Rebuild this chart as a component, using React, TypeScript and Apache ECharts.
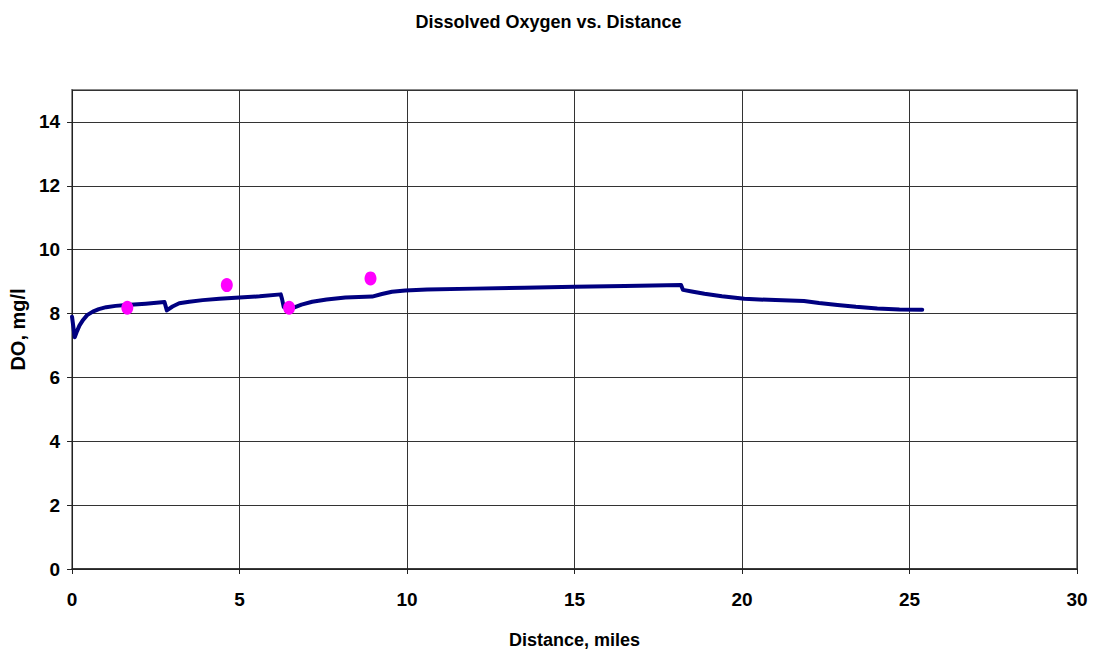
import React, { useEffect, useRef } from "react";
import * as echarts from "echarts";

const modelDistance = [0, 0.08, 0.15, 0.22, 0.33, 0.45, 0.62, 0.8, 1.02, 1.3, 1.62, 2.2, 2.76, 2.83, 3.0, 3.2, 3.5, 3.9, 4.4, 5.0, 5.6, 6.23, 6.27, 6.32, 6.58, 6.85, 7.17, 7.6, 8.16, 8.96, 9.25, 9.55, 9.95, 10.6, 12.0, 13.5, 15.0, 16.5, 18.18, 18.24, 18.5, 18.88, 19.4, 20.07, 21.0, 21.85, 22.3, 22.85, 23.4, 24.04, 24.7, 25.38];
const modelDO = [7.9, 7.26, 7.45, 7.62, 7.8, 7.95, 8.06, 8.14, 8.2, 8.24, 8.27, 8.31, 8.36, 8.1, 8.22, 8.32, 8.37, 8.42, 8.46, 8.5, 8.54, 8.6, 8.45, 8.2, 8.17, 8.28, 8.37, 8.44, 8.5, 8.53, 8.61, 8.68, 8.72, 8.75, 8.78, 8.81, 8.84, 8.86, 8.89, 8.74, 8.69, 8.62, 8.54, 8.46, 8.42, 8.39, 8.33, 8.27, 8.21, 8.16, 8.13, 8.12];

const obsDistance = [1.65, 4.62, 6.48, 8.91];
const obsDO = [8.18, 8.89, 8.18, 9.1];

const FONT = "'Liberation Sans', Arial, sans-serif";

export default function App() {
  const ref = useRef<HTMLDivElement>(null);
  useEffect(() => {
    document.body.style.margin = "0";
    if (!ref.current) return;
    const chart = echarts.init(ref.current, undefined, { renderer: "svg" });
    chart.setOption({
      animation: false,
      backgroundColor: "#ffffff",
      title: {
        text: "Dissolved Oxygen vs. Distance",
        left: "center",
        top: 8,
        textStyle: { fontFamily: FONT, fontWeight: "bold", fontSize: 18, color: "#000" },
      },
      grid: {
        left: 69,
        right: 20,
        top: 90,
        bottom: 85,
        show: true,
        borderColor: "#888",
        borderWidth: 2,
        backgroundColor: "transparent",
      },
      xAxis: {
        type: "value",
        min: 0,
        max: 30,
        interval: 5,
        name: "Distance, miles",
        nameLocation: "middle",
        nameGap: 62,
        nameTextStyle: { fontFamily: FONT, fontWeight: "bold", fontSize: 18, color: "#000" },
        axisLine: { show: true, onZero: false, lineStyle: { color: "#222", width: 1.5 } },
        axisTick: { show: true, length: 5, lineStyle: { color: "#222" } },
        axisLabel: { fontFamily: FONT, fontWeight: "bold", fontSize: 19, color: "#000", margin: 21 },
        splitLine: { show: true, lineStyle: { color: "#333", width: 1 } },
      },
      yAxis: {
        type: "value",
        min: 0,
        max: 15,
        interval: 2,
        name: "DO, mg/l",
        nameLocation: "middle",
        nameGap: 38,
        nameRotate: 90,
        nameTextStyle: { fontFamily: FONT, fontWeight: "bold", fontSize: 20, color: "#000" },
        axisLine: { show: true, lineStyle: { color: "#222", width: 1 } },
        axisTick: { show: true, length: 5, lineStyle: { color: "#222" } },
        axisLabel: { fontFamily: FONT, fontWeight: "bold", fontSize: 19, color: "#000", margin: 12, showMaxLabel: false },
        splitLine: { show: true, lineStyle: { color: "#333", width: 1 } },
      },
      series: [
        {
          type: "line",
          data: modelDistance.map((d, i) => [d, modelDO[i]]),
          showSymbol: false,
          symbol: "none",
          smooth: false,
          lineStyle: { color: "#000080", width: 4, cap: "round", join: "round" },
          z: 3,
        },
        {
          type: "scatter",
          data: obsDistance.map((d, i) => [d, obsDO[i]]),
          symbol: "circle",
          symbolSize: [12, 14],
          itemStyle: { color: "#ff00ff", opacity: 1 },
          z: 4,
        },
      ],
    });
    return () => chart.dispose();
  }, []);
  return <div ref={ref} style={{ width: 1097, height: 654 }} />;
}
